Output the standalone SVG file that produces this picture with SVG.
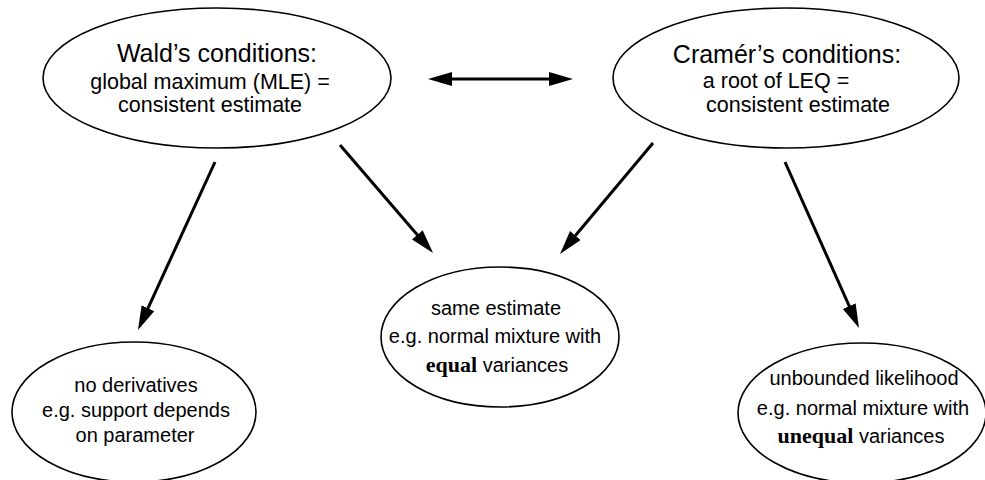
<svg xmlns="http://www.w3.org/2000/svg" width="985" height="480" viewBox="0 0 985 480">
<style>
.node ellipse{fill:#fff;stroke:#000;stroke-width:1.6}
.h{font-family:"Liberation Sans",Arial,sans-serif;font-size:25px;fill:#000;text-anchor:middle}
.t{font-family:"Liberation Sans",Arial,sans-serif;font-size:21.5px;fill:#000;text-anchor:middle}
.s{font-family:"Liberation Sans",Arial,sans-serif;font-size:20px;fill:#000;text-anchor:middle}
.b{font-family:"Liberation Serif","Times New Roman",serif;font-weight:bold;font-size:22px}
.conn line{stroke:#000;stroke-width:3;fill:none}
</style>
<defs>
<marker id="ah" markerUnits="userSpaceOnUse" markerWidth="26" markerHeight="16" refX="12" refY="7" orient="auto-start-reverse" viewBox="0 0 26 16">
<path d="M0,0 L24,7 L0,14 z" fill="#000"/>
</marker>
</defs>
<g id="wald" class="node">
<ellipse cx="217" cy="78" rx="174" ry="70"/>
<text class="h" x="217" y="62">Wald’s conditions:</text>
<text class="t" x="210" y="89">global maximum (MLE) =</text>
<text class="t" x="210" y="112">consistent estimate</text>
</g>
<g id="cramer" class="node">
<ellipse cx="786" cy="78" rx="173" ry="70"/>
<text class="h" x="787" y="63">Cramér’s conditions:</text>
<text class="t" x="776" y="88">a root of LEQ =</text>
<text class="t" x="798" y="112">consistent estimate</text>
</g>
<g id="same" class="node">
<ellipse cx="500" cy="337" rx="119" ry="70"/>
<text class="s" x="496" y="315">same estimate</text>
<text class="s" x="495" y="343">e.g. normal mixture with</text>
<text class="s" x="497" y="372"><tspan class="b">equal</tspan> variances</text>
</g>
<g id="noderiv" class="node">
<ellipse cx="134" cy="412" rx="122" ry="70"/>
<text class="s" x="136" y="392">no derivatives</text>
<text class="s" x="136" y="417">e.g. support depends</text>
<text class="s" x="135" y="442">on parameter</text>
</g>
<g id="unbounded" class="node">
<ellipse cx="862" cy="413" rx="124" ry="70"/>
<text class="s" x="864" y="385">unbounded likelihood</text>
<text class="s" x="863" y="415">e.g. normal mixture with</text>
<text class="s" x="861" y="443"><tspan class="b">unequal</tspan> variances</text>
</g>
<g id="connectors" class="conn">
<line x1="440" y1="79" x2="561" y2="79" marker-start="url(#ah)" marker-end="url(#ah)"/>
<line x1="215" y1="162" x2="143" y2="319.1" marker-end="url(#ah)"/>
<line x1="340" y1="145" x2="425.2" y2="243.9" marker-end="url(#ah)"/>
<line x1="653" y1="143" x2="567.7" y2="244.8" marker-end="url(#ah)"/>
<line x1="785" y1="162" x2="854.1" y2="317" marker-end="url(#ah)"/>
</g>
</svg>
